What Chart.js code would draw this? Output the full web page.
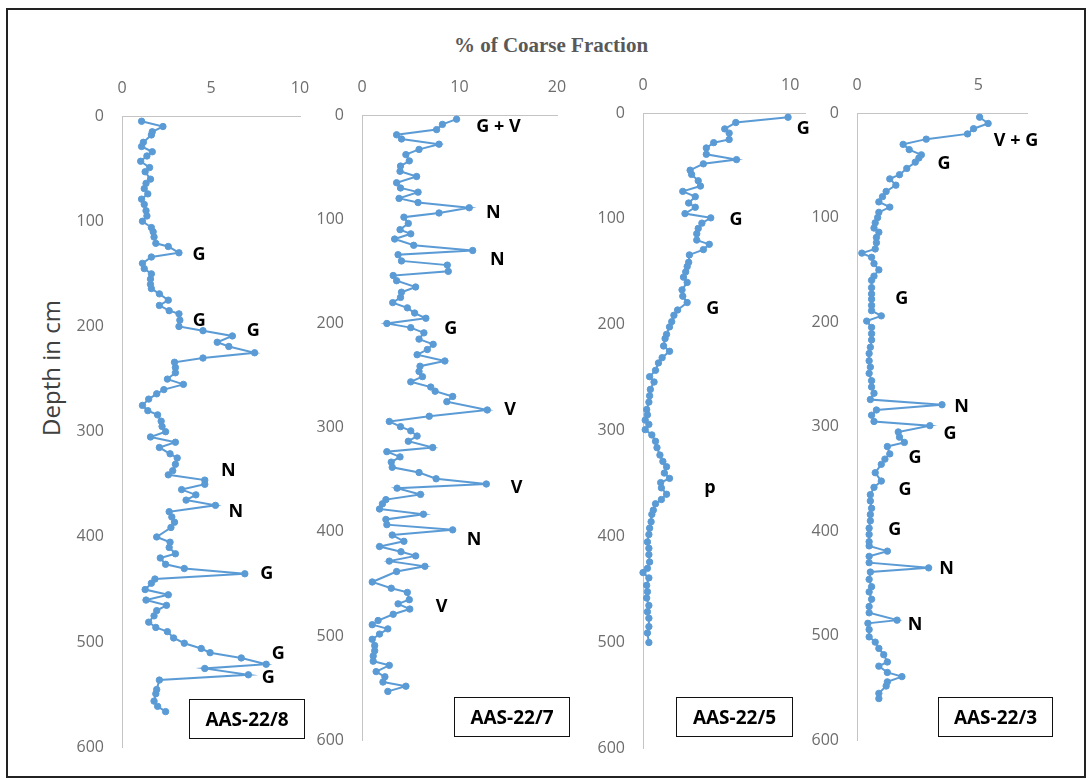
<!DOCTYPE html>
<html>
<head>
<meta charset="utf-8">
<script src="https://cdn.jsdelivr.net/npm/chart.js@4.4.0/dist/chart.umd.min.js"></script>
<style>
  body { margin: 0; background: #fff; }
  #wrap { position: relative; width: 1091px; height: 780px; overflow: hidden; font-family: "Open Sans", sans-serif; }
  #frame { position: absolute; left: 6px; top: 8px; width: 1076px; height: 766px; border: 2px solid #222; }
  #title { position: absolute; left: 401px; width: 300px; top: 33px; text-align: center; white-space: nowrap;
           font: bold 21px "Liberation Serif", serif; color: #595959; }
  #ylabel { position: absolute; left: 50px; top: 368px; transform: translate(-50%, -50%) rotate(-90deg);
            font-size: 24px; color: #404040; white-space: nowrap; }
  .panel { position: absolute; }
  .note { position: absolute; transform: translate(-50%, -50%); font-weight: bold; font-size: 18px; color: #000; white-space: nowrap; }
  .core { position: absolute; box-sizing: border-box; border: 1.5px solid #111; height: 40px;
          display: flex; align-items: center; justify-content: center; font-weight: bold; font-size: 19px; color: #000; }
</style>
</head>
<body>
<div id="wrap">
  <div id="frame"></div>
  <div id="title">% of Coarse Fraction</div>
  <div id="ylabel">Depth in cm</div>
</div>
<script>
// ---- AAS-22/8 ----
const depth8 = [5, 10, 15, 18, 25, 29, 34, 38, 43, 49, 53, 60, 64, 69, 74, 79, 84, 90, 95, 100,
  106, 110, 115, 121, 124, 130, 134, 140, 145, 150, 155, 160, 164, 169, 175, 180, 185, 188, 194, 200,
  204, 209, 215, 219, 225, 230, 234, 239, 244, 250, 255, 260, 264, 269, 275, 280, 284, 290, 295, 300,
  305, 310, 315, 321, 325, 331, 337, 341, 346, 350, 355, 360, 365, 370, 376, 381, 386, 391, 400, 405,
  410, 416, 420, 426, 430, 435, 440, 444, 450, 455, 460, 465, 470, 475, 481, 486, 490, 496, 501, 506,
  510, 515, 521, 525, 531, 536, 545, 549, 556, 561, 566];
const coarse8 = [1.1, 2.3, 1.7, 1.65, 1.2, 1.1, 1.7, 1.4, 1.05, 1.55, 1.3, 1.6, 1.35, 1.25, 1.45, 1.1, 1.25, 1.35, 1.4, 1.15,
  1.65, 1.75, 1.8, 1.9, 2.6, 3.2, 1.65, 1.15, 1.25, 1.65, 1.6, 1.6, 1.65, 2.1, 2.6, 2.1, 2.65, 3.2, 3.25, 3.2,
  4.55, 6.2, 5.35, 6.0, 7.45, 4.55, 2.95, 3.0, 3.0, 2.55, 3.45, 2.35, 1.95, 1.5, 1.15, 1.45, 2.0, 2.2, 2.25, 2.45,
  1.6, 3.0, 2.1, 2.7, 3.1, 3.0, 2.85, 2.6, 4.65, 4.65, 3.35, 4.15, 3.6, 5.25, 2.65, 2.8, 2.95, 2.75, 1.95, 2.7,
  2.65, 3.0, 2.15, 2.45, 3.5, 6.9, 1.85, 1.65, 1.3, 2.6, 1.35, 2.5, 1.95, 1.8, 1.5, 1.9, 2.55, 2.9, 3.5, 4.45,
  4.95, 6.7, 8.1, 4.65, 7.1, 2.1, 1.95, 1.9, 1.8, 2.0, 2.45];
const notes8 = [["G", 4.33, 130], ["G", 4.34, 193], ["G", 7.38, 202], ["N", 5.97, 335], ["N", 6.4, 374],
  ["G", 8.13, 433], ["G", 8.78, 509], ["G", 8.22, 532]];

// ---- AAS-22/7 ----
const depth7 = [4, 9, 14, 19, 23, 28, 33, 38, 44, 49, 54, 59, 65, 70, 74, 80, 84, 89, 94, 98,
  104, 110, 114, 119, 125, 130, 134, 140, 144, 150, 154, 159, 165, 170, 175, 180, 185, 190, 195, 200,
  204, 209, 215, 220, 225, 230, 236, 241, 246, 251, 256, 261, 265, 270, 275, 283, 289, 294, 299, 303,
  308, 313, 319, 323, 328, 333, 338, 343, 349, 354, 358, 364, 369, 373, 378, 383, 388, 393, 398, 403,
  409, 414, 419, 423, 428, 433, 438, 448, 454, 458, 465, 469, 474, 479, 485, 489, 493, 498, 503, 509,
  514, 519, 524, 528, 534, 539, 544, 548, 553];
const coarse7 = [9.7, 8.25, 7.65, 3.55, 4.05, 7.9, 5.85, 4.5, 4.85, 3.95, 3.9, 5.6, 3.55, 3.95, 5.75, 3.8, 5.75, 11.0, 7.9, 4.3,
  4.75, 3.9, 5.0, 3.35, 5.3, 11.35, 3.7, 4.05, 8.75, 8.85, 3.2, 3.55, 5.5, 4.05, 3.95, 3.15, 4.65, 5.4, 6.55, 2.55,
  5.0, 6.35, 5.85, 7.3, 6.7, 5.65, 8.5, 5.95, 5.85, 6.2, 5.0, 7.05, 7.5, 9.3, 8.7, 12.85, 6.9, 2.8, 3.95, 5.0,
  5.65, 4.75, 7.25, 2.55, 3.9, 3.0, 3.1, 5.85, 7.6, 12.75, 3.6, 6.0, 2.45, 2.1, 1.8, 6.3, 2.45, 2.55, 9.3, 3.1,
  4.3, 1.8, 4.0, 5.5, 2.8, 6.45, 3.55, 1.05, 3.0, 4.65, 4.85, 3.7, 4.9, 3.2, 1.65, 1.05, 2.65, 1.8, 1.05, 1.3,
  1.3, 1.15, 1.15, 2.8, 1.45, 2.35, 2.15, 4.5, 2.65];
const notes7 = [["G + V", 14.0, 10], ["N", 13.47, 92], ["N", 13.88, 137], ["G", 9.1, 203], ["V", 15.18, 281],
  ["V", 15.86, 356], ["N", 11.49, 406], ["V", 8.17, 470]];

// ---- AAS-22/5 ----
const depth5 = [4, 9, 15, 19, 25, 28, 33, 39, 44, 48, 54, 58, 64, 69, 74, 79, 85, 89, 95, 99,
  104, 109, 114, 120, 124, 129, 134, 141, 145, 150, 155, 160, 167, 173, 179, 186, 191, 197, 202, 209,
  213, 220, 225, 231, 236, 243, 249, 254, 261, 267, 273, 280, 285, 290, 294, 299, 304, 310, 316, 323,
  329, 334, 340, 345, 349, 354, 360, 365, 369, 375, 379, 386, 392, 398, 405, 411, 417, 424, 430, 434,
  439, 446, 452, 458, 465, 471, 477, 485, 491, 500];
const coarse5 = [9.85, 6.3, 5.55, 5.85, 5.85, 4.8, 4.3, 4.3, 6.35, 4.1, 3.2, 3.3, 3.75, 3.9, 2.7, 3.55, 3.1, 3.55, 2.85, 4.6,
  4.0, 3.75, 3.65, 3.65, 4.5, 4.1, 3.15, 3.1, 3.0, 2.9, 2.75, 3.0, 2.65, 2.7, 3.0, 2.35, 2.1, 1.95, 1.8, 1.6,
  1.5, 1.4, 1.8, 1.3, 1.05, 0.85, 0.45, 0.75, 0.5, 0.45, 0.4, 0.25, 0.3, 0.15, 0.4, 0.15, 0.6, 0.85, 0.95, 1.15,
  1.35, 1.6, 1.45, 1.8, 1.2, 1.25, 1.6, 1.25, 0.85, 0.7, 0.6, 0.55, 0.45, 0.4, 0.3, 0.4, 0.4, 0.45, 0.3, 0.0,
  0.4, 0.25, 0.3, 0.25, 0.4, 0.3, 0.4, 0.4, 0.3, 0.4];
const notes5 = [["G", 10.88, 13.5], ["G", 6.31, 99], ["G", 4.73, 183], ["p", 4.55, 352]];

// ---- AAS-22/3 ----
const depth3 = [4, 10, 15, 20, 25, 30, 35, 40, 43, 47, 53, 59, 63, 69, 75, 80, 85, 90, 95, 100,
  105, 110, 114, 119, 124, 130, 134, 138, 144, 150, 156, 160, 167, 173, 178, 184, 189, 194, 199, 205,
  211, 217, 224, 230, 237, 243, 249, 256, 262, 268, 274, 279, 284, 289, 295, 299, 305, 310, 315, 319,
  326, 331, 336, 344, 352, 358, 365, 371, 378, 384, 390, 397, 403, 410, 414, 419, 424, 430, 435, 439,
  446, 453, 458, 465, 472, 478, 485, 488, 494, 501, 506, 512, 518, 525, 529, 535, 539, 544, 548, 555,
  560];
const coarse3 = [5.05, 5.4, 4.8, 4.55, 2.85, 1.9, 2.15, 2.65, 2.55, 2.4, 2.05, 1.75, 1.35, 1.6, 1.2, 1.05, 0.9, 1.35, 0.9, 0.85,
  0.75, 0.7, 0.9, 0.8, 0.8, 0.75, 0.2, 0.6, 0.7, 0.9, 0.7, 0.6, 0.6, 0.6, 0.6, 0.6, 0.6, 1.0, 0.4, 0.6,
  0.6, 0.6, 0.55, 0.5, 0.5, 0.55, 0.5, 0.6, 0.6, 0.7, 0.55, 3.5, 0.8, 0.6, 0.7, 3.0, 1.7, 1.75, 1.95, 1.25,
  1.35, 1.15, 1.0, 0.75, 1.0, 0.7, 0.55, 0.55, 0.6, 0.55, 0.55, 0.5, 0.5, 0.5, 0.5, 1.25, 0.5, 0.5, 2.95, 0.55,
  0.5, 0.6, 0.5, 0.6, 0.5, 0.5, 1.65, 0.45, 0.5, 0.5, 0.75, 0.9, 1.1, 1.25, 0.9, 1.25, 1.85, 1.25, 1.2, 0.9,
  0.9];
const notes3 = [["V + G", 6.55, 25], ["G", 3.58, 47], ["G", 1.84, 176], ["N", 4.31, 279], ["G", 3.83, 305],
  ["G", 2.39, 328], ["G", 1.98, 359], ["G", 1.56, 397], ["N", 3.69, 434], ["N", 2.39, 488]];

const depthTicks = [0, 100, 200, 300, 400, 500, 600];

const panels = [
  { name: "AAS-22/8", depth: depth8, coarse: coarse8, notes: notes8, xMax: 10, xStep: 5,
    left: 122, top: 116, w: 178, h: 631, box: { left: 189, top: 699, w: 116 } },
  { name: "AAS-22/7", depth: depth7, coarse: coarse7, notes: notes7, xMax: 20, xStep: 10,
    left: 362, top: 115, w: 195, h: 625, box: { left: 454, top: 697, w: 116 } },
  { name: "AAS-22/5", depth: depth5, coarse: coarse5, notes: notes5, xMax: 11, xStep: 10,
    left: 643, top: 113, w: 162, h: 635, box: { left: 676, top: 697, w: 117 } },
  { name: "AAS-22/3", depth: depth3, coarse: coarse3, notes: notes3, xMax: 7, xStep: 5,
    left: 857, top: 113, w: 170, h: 627, box: { left: 938, top: 697, w: 115 } },
];

const AXIS_W = 70, AXIS_H = 50, PAD_R = 45, PAD_B = 20;
const tickFont = { family: "Open Sans", size: 16 };
const tickColor = "#6d6d6d";
const lineColor = "#5b9bd5";
const wrap = document.getElementById("wrap");

function sizeCanvas(canvas, w, h) {
  canvas.width = w;
  canvas.height = h;
  canvas.style.width = w + "px";
  canvas.style.height = h + "px";
}

function makeChart(canvas, p) {
  return new Chart(canvas.getContext("2d"), {
    type: "scatter",
    data: {
      datasets: [{
        data: p.depth.map((d, i) => ({ x: p.coarse[i], y: d })),
        showLine: true,
        borderColor: lineColor,
        backgroundColor: lineColor,
        borderWidth: 2,
        pointRadius: 3.2,
        pointBorderWidth: 1,
        pointBorderColor: lineColor,
        clip: false,
      }],
    },
    options: {
      responsive: false,
      animation: false,
      devicePixelRatio: 1,
      layout: { padding: { left: 0, top: 0, right: PAD_R, bottom: PAD_B } },
      plugins: { legend: { display: false }, tooltip: { enabled: false } },
      scales: {
        x: {
          type: "linear",
          position: "top",
          min: 0,
          max: p.xMax,
          grid: { display: false, drawTicks: false },
          border: { color: "#c4c4c4", width: 1 },
          ticks: { stepSize: p.xStep, includeBounds: false, padding: 18, color: tickColor, font: tickFont, maxRotation: 0 },
          afterFit: s => { s.height = AXIS_H; },
        },
        y: {
          type: "linear",
          reverse: true,
          min: depthTicks[0],
          max: depthTicks[depthTicks.length - 1],
          grid: { display: false, drawTicks: false },
          border: { color: "#c4c4c4", width: 1 },
          ticks: { stepSize: 100, padding: 18, color: tickColor, font: tickFont },
          afterFit: s => { s.width = AXIS_W; },
        },
      },
    },
  });
}

panels.forEach(p => {
  const holder = document.createElement("div");
  holder.className = "panel";
  const cw = AXIS_W + p.w + PAD_R, ch = AXIS_H + p.h + PAD_B;
  const cx = p.left - AXIS_W, cy = p.top - AXIS_H;
  holder.style.left = cx + "px";
  holder.style.top = cy + "px";
  const canvas = document.createElement("canvas");
  sizeCanvas(canvas, cw, ch);
  holder.appendChild(canvas);
  wrap.appendChild(holder);

  let chart = makeChart(canvas, p);

  // the layout keeps a few pixels for edge labels: rebuild on a larger canvas so the plot sits where we want it
  const ca = chart.chartArea;
  const dw = Math.round((AXIS_W + p.w) - ca.right);
  const dh = Math.round((AXIS_H + p.h) - ca.bottom);
  if (dw !== 0 || dh !== 0) {
    chart.destroy();
    sizeCanvas(canvas, cw + dw, ch + dh);
    chart = makeChart(canvas, p);
  }

  // letter notes placed through the chart's own scales
  const xs = chart.scales.x, ys = chart.scales.y;
  p.notes.forEach(([txt, v, d]) => {
    const el = document.createElement("div");
    el.className = "note";
    el.textContent = txt;
    el.style.left = (cx + xs.getPixelForValue(v)) + "px";
    el.style.top = (cy + ys.getPixelForValue(d)) + "px";
    wrap.appendChild(el);
  });

  const box = document.createElement("div");
  box.className = "core";
  box.textContent = p.name;
  box.style.left = p.box.left + "px";
  box.style.top = p.box.top + "px";
  box.style.width = p.box.w + "px";
  wrap.appendChild(box);
});
</script>
</body>
</html>
